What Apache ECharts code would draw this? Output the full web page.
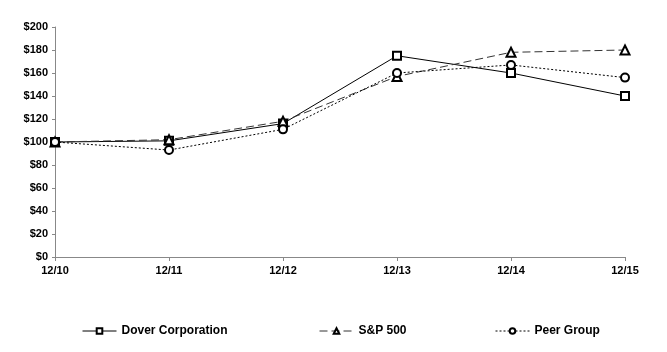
<!DOCTYPE html>
<html>
<head>
<meta charset="utf-8">
<script src="https://cdn.jsdelivr.net/npm/echarts@6/dist/echarts.min.js"></script>
<style>
  html, body { margin: 0; padding: 0; background: #fff; }
  #chart { width: 667px; height: 352px; }
</style>
</head>
<body>
<div id="chart"></div>
<script>
// years on the x axis
var years = ['12/10', '12/11', '12/12', '12/13', '12/14', '12/15'];
// cumulative return values ($)
var dover = [100, 101, 116, 175, 160, 140];
var sp500 = [100, 102, 118, 157, 178, 180];
var peer = [100, 93, 111, 160, 167, 156];

var font = 'Liberation Sans, Arial, sans-serif';
var chart = echarts.init(document.getElementById('chart'));

function legendAt(name, left) {
    return {
        data: [name],
        left: left,
        top: 320,
        itemWidth: 34,
        itemHeight: 7,
        itemGap: 0,
        itemStyle: { borderWidth: 1 },
        lineStyle: { width: 1 },
        textStyle: { fontFamily: font, fontWeight: 'bold', fontSize: 12, color: '#000' }
    };
}

var option = {
    animation: false,
    backgroundColor: '#fff',
    grid: { left: 55, right: 42, top: 27, bottom: 95 },
    legend: [
        legendAt('Dover Corporation', 77),
        legendAt('S&P 500', 314),
        legendAt('Peer Group', 490)
    ],
    xAxis: {
        type: 'category',
        data: years,
        boundaryGap: false,
        axisLine: { lineStyle: { color: '#888', width: 1 } },
        axisTick: { show: true, alignWithLabel: true, length: 4, lineStyle: { color: '#888' } },
        axisLabel: { fontFamily: font, fontWeight: 'bold', fontSize: 11, color: '#000', margin: 8 },
        splitLine: { show: false }
    },
    yAxis: {
        type: 'value',
        min: 0,
        max: 200,
        interval: 20,
        axisLine: { show: true, lineStyle: { color: '#888', width: 1 } },
        axisTick: { show: true, length: 3, lineStyle: { color: '#888' } },
        axisLabel: {
            fontFamily: font, fontWeight: 'bold', fontSize: 11, color: '#000', margin: 7,
            formatter: function (v) { return '$' + v; }
        },
        splitLine: { show: false }
    },
    series: [
        {
            name: 'Dover Corporation',
            type: 'line',
            data: dover,
            symbol: 'emptyRect',
            symbolSize: 8,
            lineStyle: { color: '#000', width: 1, type: 'solid' },
            itemStyle: { color: '#000', borderWidth: 1 }
        },
        {
            name: 'S&P 500',
            type: 'line',
            data: sp500,
            symbol: 'emptyTriangle',
            symbolSize: 9,
            lineStyle: { color: '#333', width: 1, type: [8, 4] },
            itemStyle: { color: '#000', borderWidth: 1 }
        },
        {
            name: 'Peer Group',
            type: 'line',
            data: peer,
            symbol: 'emptyCircle',
            symbolSize: 8,
            lineStyle: { color: '#000', width: 1, type: [2, 2] },
            itemStyle: { color: '#000', borderWidth: 1 }
        }
    ]
};

chart.setOption(option);
window.addEventListener('resize', function () {
    chart.resize();
});
</script>
</body>
</html>
